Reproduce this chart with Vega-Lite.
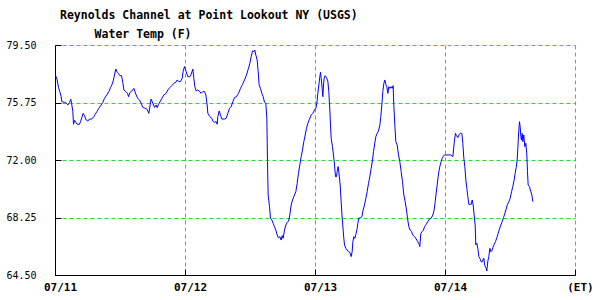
{
  "$schema": "https://vega.github.io/schema/vega-lite/v6.json",
  "width": 520,
  "height": 230,
  "autosize": {"type": "none"},
  "padding": {"left": 55, "top": 45, "right": 25, "bottom": 25},
  "background": "white",
  "title": {
    "text": ["Reynolds Channel at Point Lookout NY (USGS)", "\u200b\u00a0\u00a0\u00a0\u00a0\u00a0Water Temp (F)"],
    "font": "DejaVu Sans Mono",
    "fontSize": 11.5,
    "fontWeight": "bold",
    "color": "black",
    "anchor": "start",
    "frame": "group",
    "lineHeight": 19,
    "dx": 5,
    "offset": 0
  },
  "config": {"view": {"stroke": null}},
  "data": {
    "values": [
      {"hour": 0.09, "temp": 77.54}, {"hour": 0.40, "temp": 77.22}, {"hour": 0.65, "temp": 76.72}, {"hour": 0.89, "temp": 76.46},
      {"hour": 1.14, "temp": 76.13}, {"hour": 1.26, "temp": 75.80}, {"hour": 1.75, "temp": 75.76}, {"hour": 2.12, "temp": 75.70},
      {"hour": 2.37, "temp": 75.59}, {"hour": 2.68, "temp": 75.76}, {"hour": 2.92, "temp": 75.96}, {"hour": 3.11, "temp": 75.59},
      {"hour": 3.29, "temp": 75.15}, {"hour": 3.42, "temp": 74.33}, {"hour": 3.60, "temp": 74.59}, {"hour": 3.85, "temp": 74.46},
      {"hour": 4.09, "temp": 74.33}, {"hour": 4.52, "temp": 74.33}, {"hour": 4.71, "temp": 74.50}, {"hour": 4.95, "temp": 74.76},
      {"hour": 5.20, "temp": 75.04}, {"hour": 5.45, "temp": 74.89}, {"hour": 5.75, "temp": 74.61}, {"hour": 6.06, "temp": 74.54},
      {"hour": 6.37, "temp": 74.67}, {"hour": 6.80, "temp": 74.67}, {"hour": 7.17, "temp": 74.83}, {"hour": 7.42, "temp": 74.98},
      {"hour": 7.72, "temp": 75.15}, {"hour": 8.09, "temp": 75.37}, {"hour": 8.52, "temp": 75.59}, {"hour": 8.83, "temp": 75.76},
      {"hour": 9.14, "temp": 76.02}, {"hour": 9.63, "temp": 76.28}, {"hour": 9.94, "temp": 76.46}, {"hour": 10.25, "temp": 76.72},
      {"hour": 10.49, "temp": 76.89}, {"hour": 10.74, "temp": 77.15}, {"hour": 10.98, "temp": 77.54}, {"hour": 11.23, "temp": 77.93},
      {"hour": 11.48, "temp": 77.72}, {"hour": 11.72, "temp": 77.65}, {"hour": 11.97, "temp": 77.50}, {"hour": 12.28, "temp": 77.50},
      {"hour": 12.52, "temp": 77.07}, {"hour": 12.71, "temp": 76.57}, {"hour": 13.08, "temp": 76.46}, {"hour": 13.39, "temp": 76.35},
      {"hour": 13.57, "temp": 76.13}, {"hour": 13.82, "temp": 76.39}, {"hour": 14.19, "temp": 76.50}, {"hour": 14.56, "temp": 76.67},
      {"hour": 14.98, "temp": 76.24}, {"hour": 15.29, "temp": 76.02}, {"hour": 15.60, "temp": 75.91}, {"hour": 15.91, "temp": 75.70},
      {"hour": 16.22, "temp": 75.43}, {"hour": 16.65, "temp": 75.37}, {"hour": 17.02, "temp": 75.30}, {"hour": 17.32, "temp": 75.04},
      {"hour": 17.57, "temp": 75.59}, {"hour": 17.75, "temp": 75.98}, {"hour": 18.06, "temp": 75.70}, {"hour": 18.37, "temp": 75.43},
      {"hour": 18.68, "temp": 75.59}, {"hour": 18.86, "temp": 75.41}, {"hour": 19.11, "temp": 75.63}, {"hour": 19.48, "temp": 75.85},
      {"hour": 19.72, "temp": 76.02}, {"hour": 20.09, "temp": 76.24}, {"hour": 20.52, "temp": 76.35}, {"hour": 20.83, "temp": 76.57},
      {"hour": 21.20, "temp": 76.72}, {"hour": 21.57, "temp": 76.85}, {"hour": 21.94, "temp": 77.00}, {"hour": 22.31, "temp": 77.07},
      {"hour": 22.55, "temp": 77.22}, {"hour": 22.86, "temp": 77.11}, {"hour": 23.17, "temp": 77.11}, {"hour": 23.48, "temp": 77.33},
      {"hour": 23.66, "temp": 77.80}, {"hour": 23.91, "temp": 78.09}, {"hour": 24.22, "temp": 77.76}, {"hour": 24.52, "temp": 77.43},
      {"hour": 24.89, "temp": 77.43}, {"hour": 25.14, "temp": 77.59}, {"hour": 25.45, "temp": 77.93}, {"hour": 25.63, "temp": 77.33},
      {"hour": 25.82, "temp": 76.78}, {"hour": 26.06, "temp": 76.50}, {"hour": 26.37, "temp": 76.57}, {"hour": 26.74, "temp": 76.46},
      {"hour": 26.98, "temp": 76.35}, {"hour": 27.29, "temp": 76.46}, {"hour": 27.60, "temp": 76.46}, {"hour": 27.85, "temp": 76.24},
      {"hour": 28.09, "temp": 75.59}, {"hour": 28.22, "temp": 75.04}, {"hour": 28.58, "temp": 74.83}, {"hour": 28.95, "temp": 74.72},
      {"hour": 29.20, "temp": 74.50}, {"hour": 29.45, "temp": 74.46}, {"hour": 29.75, "temp": 74.50}, {"hour": 29.94, "temp": 74.33},
      {"hour": 30.06, "temp": 74.83}, {"hour": 30.31, "temp": 75.20}, {"hour": 30.55, "temp": 74.93}, {"hour": 30.80, "temp": 74.67},
      {"hour": 31.29, "temp": 74.67}, {"hour": 31.60, "temp": 74.72}, {"hour": 31.91, "temp": 75.04}, {"hour": 32.22, "temp": 75.37},
      {"hour": 32.52, "temp": 75.48}, {"hour": 32.83, "temp": 75.80}, {"hour": 33.14, "temp": 76.07}, {"hour": 33.51, "temp": 76.13},
      {"hour": 33.88, "temp": 76.35}, {"hour": 34.25, "temp": 76.67}, {"hour": 34.62, "temp": 76.93}, {"hour": 34.98, "temp": 77.22},
      {"hour": 35.35, "temp": 77.54}, {"hour": 35.72, "temp": 77.98}, {"hour": 35.97, "temp": 78.30}, {"hour": 36.22, "temp": 78.74},
      {"hour": 36.46, "temp": 79.11}, {"hour": 36.71, "temp": 79.07}, {"hour": 36.89, "temp": 79.17}, {"hour": 37.08, "temp": 78.85},
      {"hour": 37.32, "temp": 78.52}, {"hour": 37.51, "temp": 77.76}, {"hour": 37.69, "temp": 76.89}, {"hour": 37.94, "temp": 76.67},
      {"hour": 38.18, "temp": 76.35}, {"hour": 38.43, "temp": 76.13}, {"hour": 38.68, "temp": 75.76}, {"hour": 38.92, "temp": 75.70},
      {"hour": 39.11, "temp": 74.72}, {"hour": 39.23, "temp": 71.89}, {"hour": 39.35, "temp": 69.72}, {"hour": 39.60, "temp": 68.96},
      {"hour": 39.78, "temp": 68.20}, {"hour": 40.03, "temp": 68.09}, {"hour": 40.28, "temp": 67.87}, {"hour": 40.52, "temp": 67.65},
      {"hour": 40.77, "temp": 67.43}, {"hour": 41.02, "temp": 67.11}, {"hour": 41.26, "temp": 66.93}, {"hour": 41.51, "temp": 67.00},
      {"hour": 41.75, "temp": 66.78}, {"hour": 41.94, "temp": 67.07}, {"hour": 42.12, "temp": 66.89}, {"hour": 42.37, "temp": 67.43},
      {"hour": 42.62, "temp": 67.76}, {"hour": 42.86, "temp": 67.93}, {"hour": 43.11, "temp": 68.02}, {"hour": 43.35, "temp": 68.41},
      {"hour": 43.60, "temp": 69.07}, {"hour": 43.85, "temp": 69.39}, {"hour": 44.09, "temp": 69.61}, {"hour": 44.46, "temp": 69.93},
      {"hour": 44.71, "temp": 70.48}, {"hour": 44.95, "temp": 71.13}, {"hour": 45.20, "temp": 71.67}, {"hour": 45.45, "temp": 72.22},
      {"hour": 45.69, "temp": 72.65}, {"hour": 45.94, "temp": 73.20}, {"hour": 46.19, "temp": 73.63}, {"hour": 46.43, "temp": 74.07},
      {"hour": 46.68, "temp": 74.39}, {"hour": 46.99, "temp": 74.67}, {"hour": 47.29, "temp": 74.93}, {"hour": 47.60, "temp": 75.04},
      {"hour": 47.91, "temp": 75.26}, {"hour": 48.15, "temp": 75.37}, {"hour": 48.34, "temp": 75.70}, {"hour": 48.52, "temp": 76.35},
      {"hour": 48.71, "temp": 76.89}, {"hour": 48.89, "temp": 77.43}, {"hour": 49.02, "temp": 77.72}, {"hour": 49.14, "temp": 77.33},
      {"hour": 49.32, "temp": 76.67}, {"hour": 49.45, "temp": 76.13}, {"hour": 49.57, "temp": 76.89}, {"hour": 49.69, "temp": 77.33},
      {"hour": 49.88, "temp": 77.50}, {"hour": 50.12, "temp": 77.37}, {"hour": 50.37, "temp": 77.15}, {"hour": 50.55, "temp": 76.46},
      {"hour": 50.74, "temp": 75.26}, {"hour": 50.86, "temp": 74.28}, {"hour": 50.99, "temp": 73.41}, {"hour": 51.23, "temp": 72.87},
      {"hour": 51.48, "temp": 72.11}, {"hour": 51.60, "temp": 71.67}, {"hour": 51.79, "temp": 70.91}, {"hour": 51.97, "temp": 70.91},
      {"hour": 52.09, "temp": 71.24}, {"hour": 52.28, "temp": 71.57}, {"hour": 52.46, "temp": 71.02}, {"hour": 52.65, "temp": 70.37},
      {"hour": 52.83, "temp": 69.28}, {"hour": 53.02, "temp": 68.20}, {"hour": 53.20, "temp": 67.43}, {"hour": 53.32, "temp": 66.89},
      {"hour": 53.45, "temp": 66.46}, {"hour": 53.69, "temp": 66.24}, {"hour": 53.94, "temp": 66.13}, {"hour": 54.19, "temp": 66.02},
      {"hour": 54.43, "temp": 65.98}, {"hour": 54.68, "temp": 65.70}, {"hour": 54.86, "temp": 66.02}, {"hour": 54.99, "temp": 66.67},
      {"hour": 55.17, "temp": 67.00}, {"hour": 55.35, "temp": 66.89}, {"hour": 55.54, "temp": 67.15}, {"hour": 55.79, "temp": 67.54},
      {"hour": 55.91, "temp": 67.87}, {"hour": 56.09, "temp": 68.20}, {"hour": 56.40, "temp": 68.24}, {"hour": 56.65, "temp": 68.30},
      {"hour": 56.89, "temp": 68.74}, {"hour": 57.14, "temp": 69.07}, {"hour": 57.39, "temp": 69.50}, {"hour": 57.63, "temp": 69.93},
      {"hour": 57.88, "temp": 70.48}, {"hour": 58.12, "temp": 70.91}, {"hour": 58.37, "temp": 71.46}, {"hour": 58.62, "temp": 72.00},
      {"hour": 58.80, "temp": 72.54}, {"hour": 58.99, "temp": 72.98}, {"hour": 59.23, "temp": 73.52}, {"hour": 59.48, "temp": 73.74},
      {"hour": 59.72, "temp": 73.89}, {"hour": 59.97, "temp": 74.28}, {"hour": 60.15, "temp": 74.83}, {"hour": 60.34, "temp": 75.59},
      {"hour": 60.52, "temp": 76.46}, {"hour": 60.71, "temp": 77.00}, {"hour": 60.89, "temp": 77.22}, {"hour": 61.08, "temp": 76.93},
      {"hour": 61.26, "temp": 76.78}, {"hour": 61.45, "temp": 76.35}, {"hour": 61.63, "temp": 76.78}, {"hour": 61.82, "temp": 76.67},
      {"hour": 62.06, "temp": 76.78}, {"hour": 62.25, "temp": 76.67}, {"hour": 62.43, "temp": 76.85}, {"hour": 62.55, "temp": 75.59},
      {"hour": 62.74, "temp": 74.28}, {"hour": 62.92, "temp": 73.20}, {"hour": 63.17, "temp": 72.98}, {"hour": 63.42, "temp": 72.33},
      {"hour": 63.66, "temp": 71.89}, {"hour": 63.91, "temp": 71.24}, {"hour": 64.15, "temp": 70.59}, {"hour": 64.40, "temp": 69.72},
      {"hour": 64.65, "temp": 69.28}, {"hour": 64.89, "temp": 68.74}, {"hour": 65.08, "temp": 68.20}, {"hour": 65.32, "temp": 67.65},
      {"hour": 65.57, "temp": 67.43}, {"hour": 65.82, "temp": 67.33}, {"hour": 66.06, "temp": 67.11}, {"hour": 66.37, "temp": 67.00},
      {"hour": 66.68, "temp": 66.85}, {"hour": 66.99, "temp": 66.67}, {"hour": 67.23, "temp": 66.50}, {"hour": 67.35, "temp": 66.35},
      {"hour": 67.54, "temp": 67.22}, {"hour": 67.79, "temp": 67.33}, {"hour": 68.03, "temp": 67.43}, {"hour": 68.22, "temp": 67.65},
      {"hour": 68.52, "temp": 67.80}, {"hour": 68.83, "temp": 67.98}, {"hour": 69.14, "temp": 68.15}, {"hour": 69.45, "temp": 68.20},
      {"hour": 69.75, "temp": 68.41}, {"hour": 70.00, "temp": 68.74}, {"hour": 70.19, "temp": 69.28}, {"hour": 70.37, "temp": 69.83},
      {"hour": 70.55, "temp": 70.37}, {"hour": 70.74, "temp": 70.91}, {"hour": 70.92, "temp": 71.35}, {"hour": 71.11, "temp": 71.67},
      {"hour": 71.29, "temp": 71.89}, {"hour": 71.48, "temp": 72.11}, {"hour": 71.66, "temp": 72.22}, {"hour": 71.91, "temp": 72.33},
      {"hour": 72.28, "temp": 72.33}, {"hour": 72.65, "temp": 72.33}, {"hour": 73.14, "temp": 72.33}, {"hour": 73.45, "temp": 72.22},
      {"hour": 73.57, "temp": 72.65}, {"hour": 73.75, "temp": 73.30}, {"hour": 73.94, "temp": 73.74}, {"hour": 74.12, "temp": 73.59},
      {"hour": 74.37, "temp": 73.46}, {"hour": 74.62, "temp": 73.67}, {"hour": 74.86, "temp": 73.74}, {"hour": 75.11, "temp": 73.74},
      {"hour": 75.29, "temp": 73.09}, {"hour": 75.48, "temp": 72.11}, {"hour": 75.66, "temp": 71.57}, {"hour": 75.85, "temp": 70.70},
      {"hour": 76.03, "temp": 70.15}, {"hour": 76.22, "temp": 69.61}, {"hour": 76.40, "temp": 69.11}, {"hour": 76.65, "temp": 69.11},
      {"hour": 76.83, "temp": 69.11}, {"hour": 77.02, "temp": 69.39}, {"hour": 77.20, "temp": 69.07}, {"hour": 77.38, "temp": 68.41},
      {"hour": 77.57, "temp": 67.76}, {"hour": 77.69, "temp": 66.46}, {"hour": 77.88, "temp": 66.57}, {"hour": 78.06, "temp": 66.24},
      {"hour": 78.25, "temp": 65.70}, {"hour": 78.43, "temp": 65.59}, {"hour": 78.62, "temp": 65.41}, {"hour": 78.80, "temp": 65.33},
      {"hour": 78.99, "temp": 65.48}, {"hour": 79.17, "temp": 65.59}, {"hour": 79.35, "temp": 65.11}, {"hour": 79.60, "temp": 64.93},
      {"hour": 79.72, "temp": 64.76}, {"hour": 79.91, "temp": 65.41}, {"hour": 80.09, "temp": 65.70}, {"hour": 80.28, "temp": 66.24},
      {"hour": 80.46, "temp": 66.02}, {"hour": 80.65, "temp": 66.07}, {"hour": 80.83, "temp": 66.28}, {"hour": 81.08, "temp": 66.50},
      {"hour": 81.32, "temp": 66.67}, {"hour": 81.57, "temp": 66.93}, {"hour": 81.82, "temp": 67.22}, {"hour": 82.06, "temp": 67.50},
      {"hour": 82.31, "temp": 67.76}, {"hour": 82.55, "temp": 67.98}, {"hour": 82.80, "temp": 68.24}, {"hour": 83.05, "temp": 68.52},
      {"hour": 83.29, "temp": 68.80}, {"hour": 83.54, "temp": 69.11}, {"hour": 83.79, "temp": 69.28}, {"hour": 84.03, "temp": 69.50},
      {"hour": 84.28, "temp": 69.93}, {"hour": 84.52, "temp": 70.26}, {"hour": 84.77, "temp": 70.70}, {"hour": 84.95, "temp": 71.13},
      {"hour": 85.14, "temp": 71.50}, {"hour": 85.32, "temp": 72.00}, {"hour": 85.45, "temp": 72.76}, {"hour": 85.57, "temp": 73.63},
      {"hour": 85.75, "temp": 74.50}, {"hour": 85.88, "temp": 74.17}, {"hour": 86.00, "temp": 73.52}, {"hour": 86.12, "temp": 73.30},
      {"hour": 86.25, "temp": 73.74}, {"hour": 86.37, "temp": 73.20}, {"hour": 86.55, "temp": 73.63}, {"hour": 86.74, "temp": 72.87},
      {"hour": 86.92, "temp": 73.09}, {"hour": 87.11, "temp": 72.33}, {"hour": 87.23, "temp": 71.24}, {"hour": 87.35, "temp": 70.37},
      {"hour": 87.60, "temp": 70.26}, {"hour": 87.85, "temp": 69.93}, {"hour": 88.03, "temp": 69.72}, {"hour": 88.22, "temp": 69.28}
    ]
  },
  "mark": {"type": "line", "color": "#0000ff", "strokeWidth": 1, "interpolate": "linear"},
  "encoding": {
    "x": {
      "field": "hour",
      "type": "quantitative",
      "scale": {"domain": [0, 96], "nice": false, "zero": false},
      "axis": {
        "title": null,
        "values": [0, 24, 48, 72, 96],
        "labelExpr": "datum.value == 0 ? '07/11' : datum.value == 24 ? '07/12' : datum.value == 48 ? '07/13' : datum.value == 72 ? '07/14' : '(ET)'",
        "labelFont": "DejaVu Sans Mono",
        "labelFontSize": 11,
        "labelFontWeight": "bold",
        "labelColor": "black",
        "labelOffset": 5,
        "labelPadding": 12,
        "labelFlush": false,
        "labelOverlap": false,
        "domainColor": "black",
        "domainWidth": 1,
        "tickColor": "black",
        "tickSize": -6,
        "grid": true,
        "gridColor": "#22dd22",
        "gridDash": [4, 3],
        "gridWidth": 1,
        "gridOpacity": 1
      }
    },
    "y": {
      "field": "temp",
      "type": "quantitative",
      "scale": {"domain": [64.5, 79.5], "nice": false, "zero": false},
      "axis": {
        "title": null,
        "values": [64.5, 68.25, 72, 75.75, 79.5],
        "format": ".2f",
        "labelFont": "DejaVu Sans Mono",
        "labelFontSize": 10,
        "labelColor": "black",
        "labelPadding": 25,
        "labelFlush": false,
        "labelOverlap": false,
        "domainColor": "black",
        "domainWidth": 1,
        "tickColor": "black",
        "tickSize": -6,
        "grid": true,
        "gridColor": "#22dd22",
        "gridDash": [4, 3],
        "gridWidth": 1,
        "gridOpacity": 1
      }
    }
  }
}
